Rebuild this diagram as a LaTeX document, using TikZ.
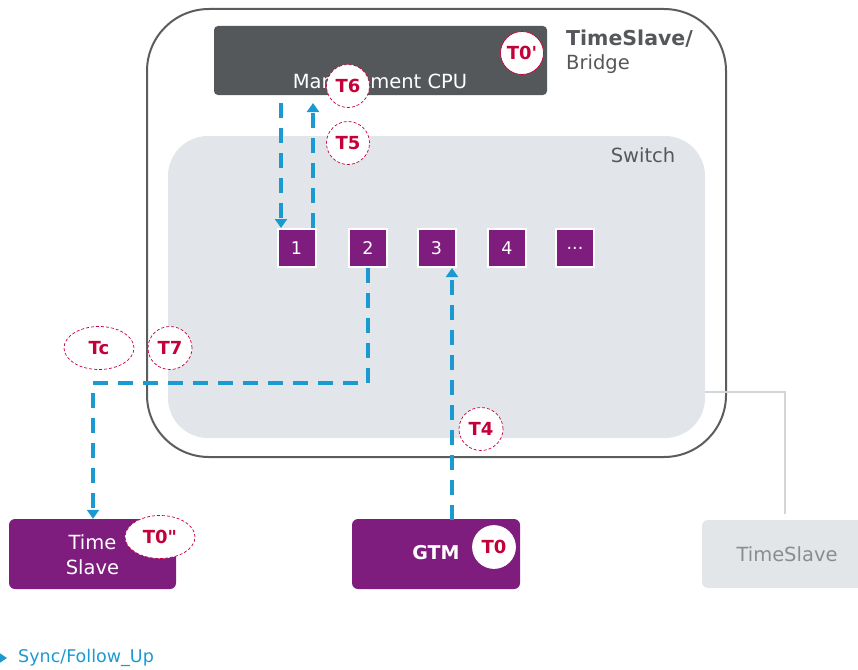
\documentclass[tikz,border=0pt]{standalone}
\usepackage{fontspec}
\setmainfont{DejaVu Sans}
\usetikzlibrary{arrows.meta,shapes.geometric}
\definecolor{outerc}{HTML}{5A5C5E}
\definecolor{cpuc}{HTML}{55585B}
\definecolor{switchc}{HTML}{E2E5E9}
\definecolor{purp}{HTML}{7E1D7E}
\definecolor{crim}{HTML}{C4003A}
\definecolor{syncc}{HTML}{1B9AD1}
\definecolor{tslight}{HTML}{E3E6E9}
\definecolor{tsgray}{HTML}{8A8D90}
\definecolor{darktext}{HTML}{55575A}
\tikzset{
  box/.style={rectangle, inner sep=0pt, anchor=center},
  port/.style={box, fill=purp, draw=white, line width=2pt, minimum size=38pt, text=white, font=\fontsize{17.5}{17.5}\selectfont},
  marker/.style={ellipse, inner sep=0pt, fill=white, draw=crim, line width=0.7pt, text=crim, font=\bfseries\fontsize{18}{18}\selectfont},
  dmarker/.style={marker, densely dashed},
  sync/.style={draw=syncc, line width=3.2pt, dash pattern=on 15pt off 10pt},
  tip/.style={-{Triangle[width=12pt,length=9pt]}},
  lbl/.style={inner sep=0pt, font=\fontsize{19.5}{23}\selectfont}
}
\begin{document}
\begin{tikzpicture}[x=1pt,y=-1pt]
\useasboundingbox (0,0) rectangle (858,669);
% outer TimeSlave/Bridge
\node[box, draw=outerc, line width=2pt, rounded corners=62pt, minimum width=579pt, minimum height=448pt] (outer) at (436.5,233) {};
% grey TimeSlave on the right
\node[box, fill=tslight, rounded corners=6pt, minimum width=170pt, minimum height=68pt, text=tsgray, font=\fontsize{19.5}{23}\selectfont] (ts2) at (787,554) {TimeSlave};
% switch
\node[box, fill=switchc, rounded corners=40pt, minimum width=537pt, minimum height=302pt] (switch) at (436.5,287) {};
\draw[draw=switchc!85!gray, line width=1.6pt] (switch.east |- 0,392) -- (785,392) -- (785,514) coordinate (ts2top);
\node[lbl, text=darktext] (swlbl) at (643,155) {Switch};
% management CPU
\node[box, fill=cpuc, rounded corners=4pt, minimum width=333pt, minimum height=69pt] (cpu) at (380.5,60.5) {};
\node[lbl, text=white, font=\fontsize{19.5}{23}\selectfont] (cpulbl) at (380,83) {Management CPU};
\node[lbl, text=darktext, anchor=west, font=\bfseries\fontsize{20.5}{23}\selectfont] (tsb1) at (566,39) {TimeSlave/};
\node[lbl, text=darktext, anchor=west] (tsb2) at (566,64) {Bridge};
% ports
\node[port] (p1) at (296.5,248) {1};
\node[port] (p2) at (368,248) {2};
\node[port] (p3) at (436.5,248) {3};
\node[port] (p4) at (507,248) {4};
\node[port] (p5) at (575,248) {...};
% end devices
\node[box, fill=purp, rounded corners=6pt, minimum width=167pt, minimum height=70pt] (tsl) at (92.5,554) {};
\node[lbl, text=white, align=center, font=\fontsize{19.5}{25}\selectfont] (tsltxt) at (92.5,555) {Time\\Slave};
\node[box, fill=purp, rounded corners=6pt, minimum width=168pt, minimum height=70pt] (gtm) at (436,554) {};
\node[lbl, text=white, font=\bfseries\fontsize{19}{23}\selectfont] (gtmtxt) at (436,553) {GTM};
% connectors
\coordinate (cpuL) at (281,103);
\coordinate (cpuR) at (313,103);
\draw[sync, tip] (cpuL) -- (cpuL |- p1.north);
\draw[sync, tip] (cpuR |- p1.north) -- (cpuR);
\coordinate (bend1) at (368,383);
\coordinate (bend2) at (93,383);
\draw[sync, tip] (p2.south) -- (bend1) -- (bend2) -- (bend2 |- tsl.north);
\coordinate (gtmup) at (452,520);
\draw[sync, tip] (gtmup) -- (gtmup |- p3.south);
% markers
\node[marker, minimum width=43pt, minimum height=43pt] (t0p) at (522,53) {T0\textquotesingle};
\node[dmarker, minimum width=43pt, minimum height=43pt] (t6) at (348,86) {T6};
\node[dmarker, minimum width=43pt, minimum height=43pt] (t5) at (348,143) {T5};
\node[dmarker, minimum width=70pt, minimum height=43pt] (tc) at (99,348) {Tc};
\node[dmarker, minimum width=44pt, minimum height=43pt] (t7) at (170,348) {T7};
\node[dmarker, minimum width=44pt, minimum height=43pt] (t4) at (481,429) {T4};
\node[dmarker, minimum width=70pt, minimum height=43pt] (t0pp) at (160,537) {T0\textquotedbl};
\node[marker, draw=white, minimum width=43pt, minimum height=43pt] (t0) at (494,547) {T0};
% legend
\coordinate (legA) at (-20,658);
\coordinate (legB) at (7,658);
\draw[draw=syncc, line width=1.5pt, -{Triangle[width=9pt,length=7pt]}] (legA) -- (legB);
\node[lbl, anchor=west, text=syncc, font=\fontsize{17.5}{20}\selectfont] (leg) at (18,658) {Sync/Follow\_Up};
\end{tikzpicture}
\end{document}
